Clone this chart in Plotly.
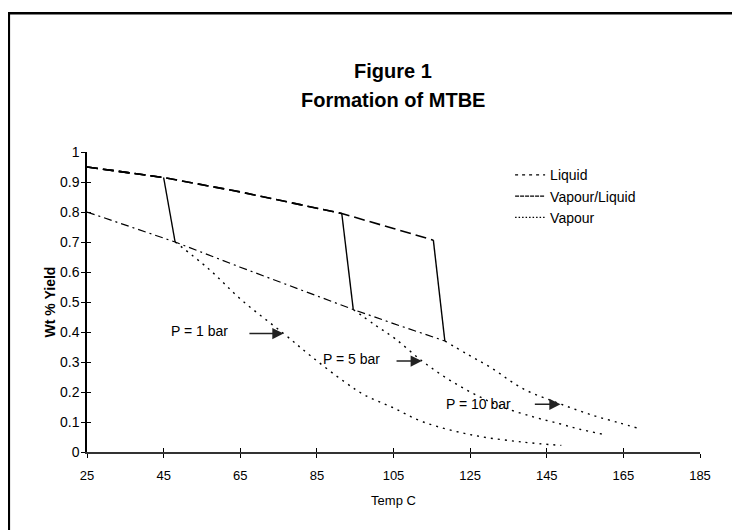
import plotly.graph_objects as go

# ---------------- data ----------------
x_ticks = [25, 45, 65, 85, 105, 125, 145, 165, 185]
y_ticks = [0, 0.1, 0.2, 0.3, 0.4, 0.5, 0.6, 0.7, 0.8, 0.9, 1]
y_ticktext = ["0", "0.1", "0.2", "0.3", "0.4", "0.5", "0.6", "0.7", "0.8", "0.9", "1"]

# Liquid branch (shared path, each pressure stops at its boiling point)
liq_p1_x = [25, 45]
liq_p1_y = [0.95, 0.915]
liq_p5_x = [25, 45, 65, 85, 91.5]
liq_p5_y = [0.95, 0.915, 0.867, 0.813, 0.795]
liq_p10_x = [25, 45, 65, 85, 91.5, 105, 115.4]
liq_p10_y = [0.95, 0.915, 0.867, 0.813, 0.795, 0.745, 0.706]

# Vapour/Liquid transitions
vl_p1_x = [45, 48]
vl_p1_y = [0.915, 0.70]
vl_p5_x = [91.5, 94.5]
vl_p5_y = [0.795, 0.475]
vl_p10_x = [115.4, 118.4]
vl_p10_y = [0.706, 0.37]

# lower dash-dot curve
low_x = [25, 48, 65, 85, 94.5, 105, 118.4]
low_y = [0.80, 0.70, 0.616, 0.52, 0.475, 0.428, 0.37]

# Vapour branches
vap_p1_x = [48, 56.7, 65.4, 76.3, 83.7, 92.3, 97.6, 104.5, 112.8, 125.8, 138.8, 148.8]
vap_p1_y = [0.70, 0.611, 0.506, 0.395, 0.317, 0.233, 0.189, 0.15, 0.10, 0.056, 0.033, 0.022]
vap_p5_x = [94.5, 100, 105.4, 112.5, 119, 125.8, 133, 141.5, 148.4, 153.6, 159.7]
vap_p5_y = [0.475, 0.425, 0.378, 0.303, 0.245, 0.195, 0.152, 0.117, 0.094, 0.076, 0.059]
vap_p10_x = [118.4, 124, 130.2, 138.8, 148.4, 157.1, 164, 168.6]
vap_p10_y = [0.37, 0.328, 0.283, 0.211, 0.161, 0.122, 0.097, 0.08]

legend_names = ["Liquid", "Vapour/Liquid", "Vapour"]

# pressure labels: text, text centre, arrow tail, arrow tip
p_labels = ["P = 1 bar", "P = 5 bar", "P = 10 bar"]
p_label_x = [54.3, 94.0, 127.1]
p_label_y = [0.405, 0.311, 0.161]
p_arrow_tail_x = [67.0, 105.4, 141.5]
p_arrow_tip_x = [76.3, 112.4, 148.6]
p_arrow_y = [0.395, 0.303, 0.159]

title_lines = ["Figure 1", "Formation of MTBE"]

FONT = "Liberation Sans, Arial, sans-serif"

# page body has an 8px margin: lay out in window pixels, then compensate
OFF = 8
W, H = 740 - OFF, 530 - OFF
PLOT_L, PLOT_R, PLOT_T, PLOT_B = 86.7, 700.0, 151.7, 451.7   # window pixels
L = PLOT_L - OFF
T = PLOT_T - OFF
R = W - (PLOT_R - OFF)
B = H - (PLOT_B - OFF)
pw, ph = PLOT_R - PLOT_L, PLOT_B - PLOT_T


def px_x(px):
    return (px - PLOT_L) / pw


def px_y(py):
    return (PLOT_B - py) / ph


fig = go.Figure()

liq_style = dict(color="black", width=1.6, dash="11px,5px")
for xs, ys in [(liq_p10_x, liq_p10_y), (liq_p5_x, liq_p5_y), (liq_p1_x, liq_p1_y)]:
    fig.add_trace(go.Scatter(x=xs, y=ys, mode="lines", line=liq_style,
                             showlegend=False, hoverinfo="skip"))

for xs, ys in [(vl_p1_x, vl_p1_y), (vl_p5_x, vl_p5_y), (vl_p10_x, vl_p10_y)]:
    fig.add_trace(go.Scatter(x=xs, y=ys, mode="lines",
                             line=dict(color="black", width=1.4),
                             showlegend=False, hoverinfo="skip"))

fig.add_trace(go.Scatter(x=low_x, y=low_y, mode="lines",
                         line=dict(color="black", width=1.2, dash="8px,4px,2px,4px"),
                         showlegend=False, hoverinfo="skip"))

for xs, ys in [(vap_p1_x, vap_p1_y), (vap_p5_x, vap_p5_y), (vap_p10_x, vap_p10_y)]:
    fig.add_trace(go.Scatter(x=xs, y=ys, mode="lines", line_shape="spline",
                             line=dict(color="black", width=1.4, dash="2px,5px"),
                             showlegend=False, hoverinfo="skip"))

# legend keys
leg_dash = ["3px,4px", "4px,1px", "1.5px,2px"]
for name, d in zip(legend_names, leg_dash):
    fig.add_trace(go.Scatter(x=[None], y=[None], mode="lines", name=name,
                             line=dict(color="black", width=1.2, dash=d)))

# tick overlay axes so ticks cross the axis lines
fig.add_trace(go.Scatter(x=[None], y=[None], xaxis="x2", yaxis="y2",
                         showlegend=False, hoverinfo="skip"))

# pressure annotations
for t, lx, ly, ax0, ax1, ay in zip(p_labels, p_label_x, p_label_y,
                                     p_arrow_tail_x, p_arrow_tip_x, p_arrow_y):
    fig.add_annotation(x=lx, y=ly, text=t, showarrow=False,
                       font=dict(family=FONT, size=14, color="black"))
    fig.add_annotation(x=ax1, y=ay, ax=ax0, ay=ay, axref="x", ayref="y",
                       text="", showarrow=True, arrowhead=2, arrowsize=1.5,
                       arrowwidth=1.5, arrowcolor="#222", standoff=0)

# title lines (window pixel rows 71 and 100, centred on x=393)
for line, row in zip(title_lines, [71, 100]):
    fig.add_annotation(x=px_x(393), xref="paper", y=px_y(row), yref="paper",
                       xanchor="center", yanchor="middle",
                       text="<b>" + line + "</b>", showarrow=False,
                       font=dict(family=FONT, size=20, color="black"))

# outer frame
fig.add_shape(type="rect", xref="paper", yref="paper",
              x0=px_x(8.5), x1=px_x(733.5),
              y0=px_y(570), y1=px_y(13),
              line=dict(color="black", width=2.5), fillcolor="rgba(0,0,0,0)")

fig.update_layout(
    width=W, height=H,
    margin=dict(l=L, r=R, t=T, b=B, pad=0, autoexpand=False),
    paper_bgcolor="white", plot_bgcolor="white",
    showlegend=True,
    legend=dict(x=px_x(510), y=px_y(159), xanchor="left", yanchor="top",
                font=dict(family=FONT, size=14, color="black"),
                bgcolor="rgba(0,0,0,0)", tracegroupgap=0, itemwidth=30),
    xaxis=dict(range=[25, 185], tickvals=x_ticks, ticktext=[str(v) for v in x_ticks],
               showgrid=False, zeroline=False, showline=True, linecolor="#333", linewidth=2,
               ticks="outside", ticklen=4, tickcolor="black", tickwidth=1.2,
               tickfont=dict(family=FONT, size=13, color="black"), ticklabelstandoff=6,
               title=dict(text="Temp C", font=dict(family=FONT, size=13, color="black"), standoff=14)),
    yaxis=dict(range=[0, 1], tickvals=y_ticks, ticktext=y_ticktext,
               showgrid=False, zeroline=False, showline=True, linecolor="black", linewidth=1.5,
               ticks="outside", ticklen=4, tickcolor="black", tickwidth=1.2,
               tickfont=dict(family=FONT, size=14, color="black"), ticklabelstandoff=-1,
               title=dict(text="<b>Wt % Yield</b>", font=dict(family=FONT, size=14, color="black"), standoff=1)),
    xaxis2=dict(overlaying="x", anchor="y", side="bottom", range=[25, 185], tickvals=x_ticks,
                showticklabels=False, showgrid=False, zeroline=False, showline=False,
                ticks="inside", ticklen=4, tickcolor="black", tickwidth=1.2),
    yaxis2=dict(overlaying="y", anchor="x", side="left", range=[0, 1], tickvals=y_ticks,
                showticklabels=False, showgrid=False, zeroline=False, showline=False,
                ticks="inside", ticklen=4, tickcolor="black", tickwidth=1.2),
)

fig.write_html("out.html")
